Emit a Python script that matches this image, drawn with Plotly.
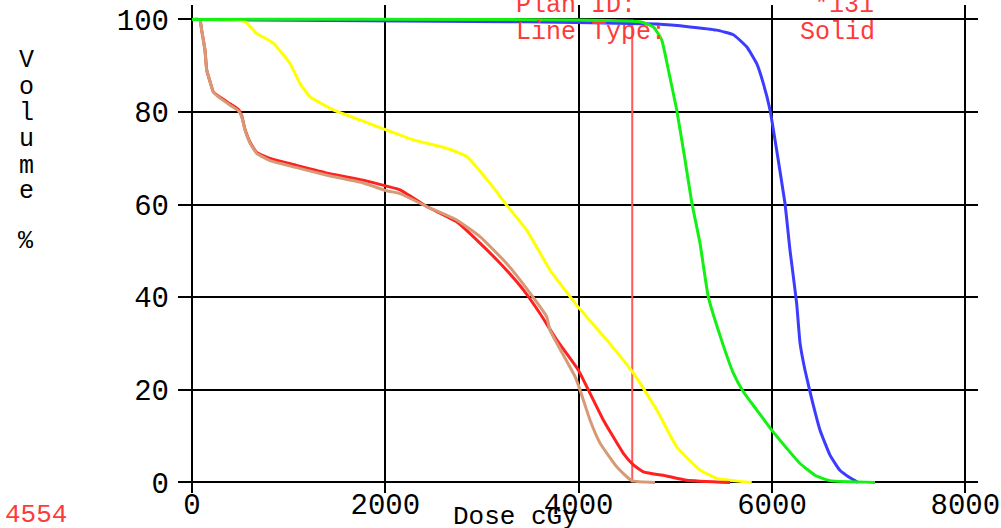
import plotly.graph_objects as go

# ---- data (dose in cGy, volume in %) ----
tan_dose = [0, 80, 100, 134, 152, 186, 220, 290, 393, 479, 514, 548, 600, 669, 807, 1083, 1428, 1772,
            2014, 2152, 2428, 2738, 2979, 3255, 3497, 3669, 3703, 3962, 4014, 4117, 4221, 4393, 4548, 4790]
tan_vol = [100, 100, 97.7, 93.4, 89.1, 86.6, 84.4, 83.0, 81.5, 80.3, 79.0, 76.1, 73.3, 71.1, 69.5, 68.0, 66.2, 64.7,
           63.0, 62.4, 59.6, 56.7, 53.1, 47.3, 40.9, 35.8, 32.9, 22.9, 20.0, 13.5, 8.5, 3.4, 0.4, 0]

red_dose = [0, 80, 100, 134, 152, 186, 220, 290, 393, 479, 514, 548, 600, 669, 807, 1083, 1428, 1772,
            2014, 2152, 2428, 2738, 2979, 3221, 3428, 3600, 3773, 3996, 4100, 4255, 4462, 4566, 4669, 4910, 5117, 5566]
red_vol = [100, 100, 97.7, 93.4, 89.1, 86.6, 84.4, 83.2, 81.8, 80.6, 79.2, 76.3, 73.5, 71.3, 70.0, 68.5, 66.7, 65.3,
           64.0, 63.2, 59.6, 56.3, 51.7, 46.6, 41.6, 36.5, 30.8, 24.3, 20.0, 13.5, 6.3, 3.8, 2.3, 1.4, 0.5, 0]

yellow_dose = [0, 400, 550, 669, 841, 1014, 1117, 1221, 1462, 1738, 2014, 2290, 2635, 2842, 3083, 3255, 3462,
               3703, 3979, 4290, 4566, 4807, 5014, 5255, 5428, 5790]
yellow_vol = [100, 100, 99.5, 97.0, 94.9, 90.5, 86.2, 83.3, 80.5, 78.3, 76.1, 74.0, 72.2, 70.4, 64.6, 59.9, 54.5,
              45.9, 38.3, 30.8, 23.6, 15.7, 7.7, 2.7, 0.9, 0]

green_dose = [0, 4635, 4772, 4859, 4928, 5014, 5100, 5169, 5255, 5341, 5466, 5600, 5703, 5841, 5997, 6152, 6290,
              6450, 6600, 7066]
green_vol = [100, 99.5, 98.4, 95.6, 89.1, 80.5, 69.7, 60.6, 51.7, 40.1, 31.5, 23.6, 19.6, 15.7, 11.3, 7.4, 4.1,
             1.5, 0.4, 0]

blue_dose = [0, 3476, 4807, 5152, 5428, 5600, 5738, 5841, 5910, 5979, 6048, 6134, 6186, 6255, 6290, 6341, 6414,
             6497, 6600, 6700, 6807, 6890]
blue_vol = [100, 99.5, 99.0, 98.4, 97.7, 96.7, 94.1, 90.5, 86.2, 80.5, 71.8, 60.3, 50.2, 38.7, 30.1, 24.3, 17.8,
            11.3, 5.9, 2.7, 1.0, 0]

marker_dose = 4554
x_ticks = [0, 2000, 4000, 6000, 8000]
y_ticks = [0, 20, 40, 60, 80, 100]
plan_id = "*131"
line_type = "Solid"

FONT = "Liberation Mono"
RED_TXT = "#ff3a3a"

fig = go.Figure()

# marker line
fig.add_trace(go.Scatter(x=[marker_dose, marker_dose], y=[0, 100], mode="lines",
                         line=dict(color="#ff5a5a", width=2), hoverinfo="skip"))

series = [
    (blue_dose, blue_vol, "#3c3cff"),
    (yellow_dose, yellow_vol, "#ffff00"),
    (red_dose, red_vol, "#ff2020"),
    (tan_dose, tan_vol, "#d69a76"),
    (green_dose, green_vol, "#14f014"),
]
for xs, ys, col in series:
    fig.add_trace(go.Scatter(x=xs, y=ys, mode="lines",
                             line=dict(color=col, width=3, shape="spline", smoothing=0.4)))

fig.update_layout(
    template="none",
    width=1001, height=528, autosize=False,
    margin=dict(l=178, r=23, t=5, b=35, autoexpand=False),
    paper_bgcolor="white", plot_bgcolor="white",
    showlegend=False,
    font=dict(family=FONT, color="black"),
)
fig.update_xaxes(range=[-145, 8131], tickvals=x_ticks, ticktext=[str(v) for v in x_ticks],
                 automargin=False,
                 showgrid=True, gridcolor="black", gridwidth=2,
                 zeroline=True, zerolinecolor="black", zerolinewidth=2,
                 showline=False, ticks="", ticklabelstandoff=-9,
                 tickfont=dict(family=FONT, size=29, color="black"))
fig.update_yaxes(range=[-2.27, 103.13], tickvals=y_ticks, ticktext=[str(v) for v in y_ticks],
                 automargin=False,
                 showgrid=True, gridcolor="black", gridwidth=2,
                 zeroline=True, zerolinecolor="black", zerolinewidth=2,
                 showline=False, ticks="", ticklabelstandoff=8,
                 tickfont=dict(family=FONT, size=29, color="black"))

def px_x(px):
    return (px - 178) / 800.0

def px_y(py):
    return (493 - py) / 488.0

ann = []
# vertical Volume % label
letters = ["V", "o", "l", "u", "m", "e", "%"]
ys_px = [60, 87, 113, 139, 166, 191, 242]
for ch, yp in zip(letters, ys_px):
    ann.append(dict(text=ch, x=px_x(26), y=px_y(yp), xref="paper", yref="paper",
                    xanchor="center", yanchor="middle", showarrow=False,
                    font=dict(family=FONT, size=25, color="black")))
ann.append(dict(text="Dose cGy", x=px_x(515), y=px_y(517), xref="paper", yref="paper",
                xanchor="center", yanchor="middle", showarrow=False,
                font=dict(family=FONT, size=26, color="black")))
ann.append(dict(text=str(marker_dose), x=px_x(3), y=px_y(515), xref="paper", yref="paper",
                xanchor="left", yanchor="middle", showarrow=False,
                font=dict(family=FONT, size=26, color=RED_TXT)))
ann.append(dict(text="Plan ID:", x=px_x(514), y=px_y(5), xref="paper", yref="paper",
                xanchor="left", yanchor="middle", showarrow=False,
                font=dict(family=FONT, size=25, color=RED_TXT)))
ann.append(dict(text="Line Type:", x=px_x(514), y=px_y(33), xref="paper", yref="paper",
                xanchor="left", yanchor="middle", showarrow=False,
                font=dict(family=FONT, size=25, color=RED_TXT)))
ann.append(dict(text=plan_id, x=px_x(876), y=px_y(5), xref="paper", yref="paper",
                xanchor="right", yanchor="middle", showarrow=False,
                font=dict(family=FONT, size=25, color=RED_TXT)))
ann.append(dict(text=line_type, x=px_x(877), y=px_y(33), xref="paper", yref="paper",
                xanchor="right", yanchor="middle", showarrow=False,
                font=dict(family=FONT, size=25, color=RED_TXT)))
fig.update_layout(annotations=ann)

fig.write_html("out.html")
